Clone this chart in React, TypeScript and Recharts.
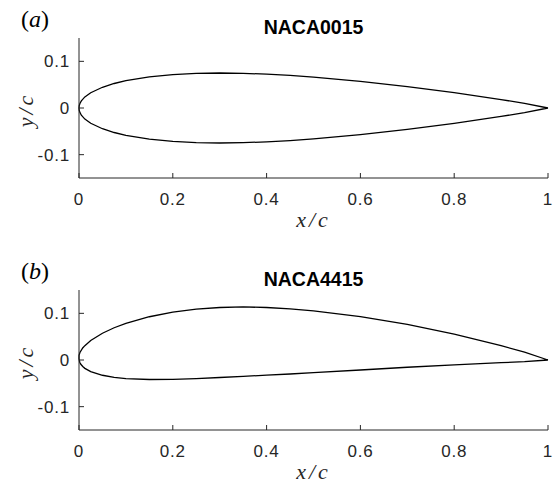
import { LineChart, Line, XAxis, YAxis } from 'recharts'

// NACA0015 surface ordinates (x/c, y/c), leading edge -> trailing edge
const naca0015X = [0, 0.0005, 0.002, 0.005, 0.0125, 0.025, 0.05, 0.075, 0.1, 0.15, 0.2, 0.25, 0.3, 0.35, 0.4, 0.45, 0.5, 0.6, 0.7, 0.8, 0.9, 0.95, 1]
const naca0015Upper = [0, 0.0049, 0.0098, 0.0153, 0.0237, 0.0327, 0.0444, 0.0525, 0.0585, 0.0668, 0.0717, 0.0743, 0.075, 0.0743, 0.0725, 0.0697, 0.0662, 0.057, 0.0458, 0.0328, 0.0181, 0.0101, 0]
const naca0015Lower = [0, -0.0049, -0.0098, -0.0153, -0.0237, -0.0327, -0.0444, -0.0525, -0.0585, -0.0668, -0.0717, -0.0743, -0.075, -0.0743, -0.0725, -0.0697, -0.0662, -0.057, -0.0458, -0.0328, -0.0181, -0.0101, 0]

// NACA4415
const naca4415UpperX = [0, 0.0001, 0.002, 0.0079, 0.0125, 0.025, 0.05, 0.075, 0.1, 0.15, 0.2, 0.25, 0.3, 0.35, 0.4, 0.45, 0.5, 0.6, 0.7, 0.8, 0.9, 0.95, 1]
const naca4415UpperY = [0.003, 0.01, 0.016, 0.0257, 0.0307, 0.0417, 0.0574, 0.0691, 0.0784, 0.0927, 0.1025, 0.1092, 0.1125, 0.1137, 0.1125, 0.1094, 0.1053, 0.093, 0.0763, 0.0555, 0.0308, 0.0167, 0]
const naca4415LowerX = [0, 0.0015, 0.0039, 0.008, 0.0125, 0.025, 0.05, 0.075, 0.1, 0.15, 0.2, 0.25, 0.3, 0.35, 0.4, 0.45, 0.5, 0.6, 0.7, 0.8, 0.9, 0.95, 1]
const naca4415LowerY = [0.003, -0.0047, -0.0092, -0.014, -0.0179, -0.0248, -0.0327, -0.0371, -0.0398, -0.0418, -0.0415, -0.0398, -0.0375, -0.035, -0.0325, -0.03, -0.0272, -0.0214, -0.0155, -0.0103, -0.0057, -0.0036, 0]

const xTicks = [0, 0.2, 0.4, 0.6, 0.8, 1]
const yTicks = [-0.1, 0, 0.1]

const INK = '#262626'
const SANS = '"Liberation Sans", Arial, sans-serif'
const SERIF = '"Liberation Serif", "Times New Roman", serif'

function contour(ux: number[], uy: number[], lx: number[], ly: number[]) {
  const pts = []
  for (let i = ux.length - 1; i >= 0; i--) pts.push({ x: ux[i], y: uy[i] })
  for (let i = 0; i < lx.length; i++) pts.push({ x: lx[i], y: ly[i] })
  return pts
}

function TickLabel(props: any) {
  const { x, y, payload, textAnchor, side } = props
  return (
    <text
      x={x}
      y={y}
      dy={side === 'bottom' ? '0.71em' : '0.355em'}
      textAnchor={textAnchor}
      fill={INK}
      fontSize={17}
      fontFamily={SANS}
      letterSpacing={0.8}
    >
      {String(payload.value)}
    </text>
  )
}

const W = 559
const H = 231

function Panel({ data, title, tag, top }: { data: { x: number; y: number }[]; title: string; tag: string; top: number }) {
  return (
    <div style={{ position: 'absolute', left: 0, top, width: W, height: H }}>
      <LineChart width={W} height={H} data={data} margin={{ top: 38, right: 11, bottom: 0, left: 0 }}>
        <XAxis
          xAxisId="b"
          dataKey="x"
          type="number"
          domain={[0, 1]}
          ticks={xTicks}
          orientation="bottom"
          height={53}
          tickSize={-5}
          tickMargin={20}
          stroke={INK}
          tick={<TickLabel side="bottom" />}
          interval={0}
        />
        <XAxis xAxisId="t" dataKey="x" type="number" domain={[0, 1]} ticks={xTicks} orientation="top" height={0} tickSize={-5} stroke={INK} tick={false} />
        <YAxis
          yAxisId="l"
          type="number"
          domain={[-0.15, 0.15]}
          ticks={yTicks}
          width={79}
          tickSize={-5}
          tickMargin={14}
          stroke={INK}
          tick={<TickLabel side="left" />}
          interval={0}
        />
        <YAxis yAxisId="r" type="number" domain={[-0.15, 0.15]} ticks={yTicks} orientation="right" width={0} tickSize={-5} stroke={INK} tick={false} />
        <Line xAxisId="t" yAxisId="r" dataKey="y" stroke="none" dot={false} isAnimationActive={false} />
        <Line xAxisId="b" yAxisId="l" type="linear" dataKey="y" stroke="#000" strokeWidth={1.3} dot={false} isAnimationActive={false} />
      </LineChart>
      <div style={{ position: 'absolute', left: 21, top: 6, fontFamily: SERIF, fontSize: 24, lineHeight: 'normal', color: '#000', whiteSpace: 'nowrap' }}>
        (<i>{tag}</i>)
      </div>
      <div style={{ position: 'absolute', left: 79, width: 469, top: 16, textAlign: 'center', fontFamily: SANS, fontWeight: 'bold', fontSize: 19.5, lineHeight: 'normal', color: '#000' }}>
        {title}
      </div>
      <div style={{ position: 'absolute', left: 79, width: 469, top: 207, textAlign: 'center', fontFamily: SERIF, fontStyle: 'italic', fontSize: 22, lineHeight: 'normal', letterSpacing: 3, color: INK }}>
        x/c
      </div>
      <div style={{ position: 'absolute', left: 26, top: 110, transform: 'translate(-50%, -50%) rotate(-90deg)', fontFamily: SERIF, fontStyle: 'italic', fontSize: 22, lineHeight: 'normal', letterSpacing: 3, color: INK, whiteSpace: 'nowrap' }}>
        y/c
      </div>
    </div>
  )
}

export default function App() {
  const a = contour(naca0015X, naca0015Upper, naca0015X, naca0015Lower)
  const b = contour(naca4415UpperX, naca4415UpperY, naca4415LowerX, naca4415LowerY)
  return (
    <div style={{ position: 'absolute', left: 0, top: 0, width: 559, height: 483, background: '#fff' }}>
      <Panel data={a} title="NACA0015" tag="a" top={0} />
      <Panel data={b} title="NACA4415" tag="b" top={252} />
    </div>
  )
}
